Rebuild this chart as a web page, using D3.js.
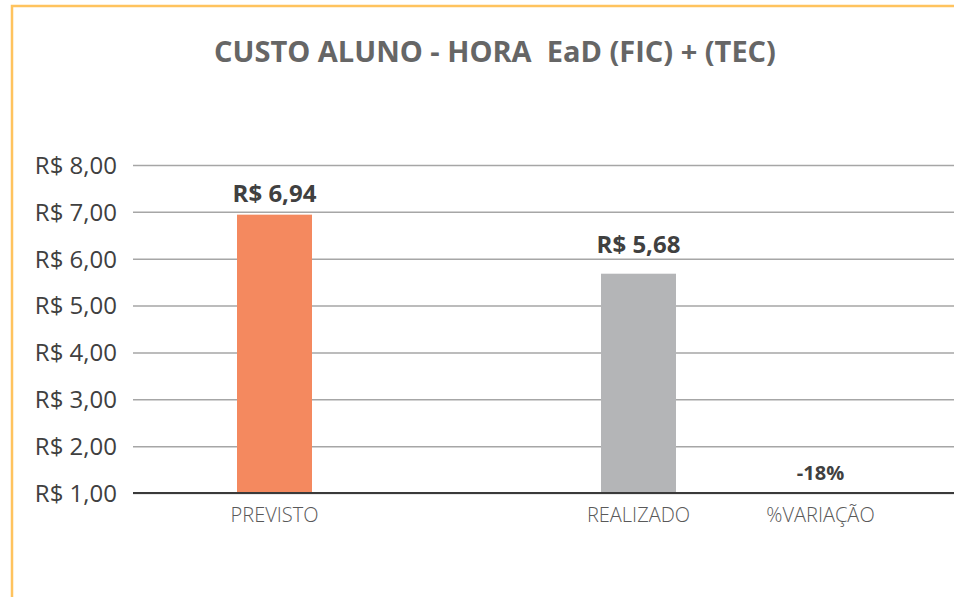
<!DOCTYPE html>
<html>
<head>
	<meta charset="utf-8">
	<style>
		body { margin: 0; background: white; overflow: hidden; }
		text { font-family: "Open Sans", "Noto Sans", sans-serif; }
	</style>
	<title>Custo aluno-hora</title>
</head>
<body>
	<script src="https://cdnjs.cloudflare.com/ajax/libs/d3/7.8.5/d3.min.js"></script>
	<script>
	// categories (the second slot is empty in the original chart)
	var categories = ["PREVISTO", "", "REALIZADO", "%VARIAÇÃO"];
	var values = [6.94, null, 5.68, -0.18];
	var valueLabels = ["R$ 6,94", "", "R$ 5,68", "-18%"];
	var yTicks = [1, 2, 3, 4, 5, 6, 7, 8];

	var barColors = ["#F4895F", null, "#B4B5B7", "#A5A5A5"];
	var labelGap = [13, 0, 21, 13];

	var width = 954, height = 597;

	var svg = d3.select("body")
		.append("svg")
		.attr("width", width)
		.attr("height", height);

	// orange frame, only top and left edges show
	svg.append("path")
		.attr("d", "M12," + height + "V6H" + width)
		.style("fill", "none")
		.style("stroke", "#FFC35E")
		.style("stroke-width", 2.5);

	// title
	svg.append("text")
		.attr("x", 495)
		.attr("y", 62)
		.style("text-anchor", "middle")
		.style("font-size", "29px")
		.style("font-weight", "bold")
		.style("fill", "#666666")
		.attr("xml:space", "preserve")
		.text("CUSTO ALUNO - HORA  EaD (FIC) + (TEC)");

	var xScale = d3.scaleBand()
		.domain(d3.range(categories.length))
		.range([183.5, 183.5 + 182 * 4]);

	var yScale = d3.scaleLinear()
		.domain([1, 8])
		.range([493, 165]);

	var fmt = function(d) { return "R$ " + d.toFixed(2).replace(".", ","); };

	// gridlines + y labels
	var yAxis = d3.axisLeft(yScale)
		.tickValues(yTicks)
		.tickSize(-(width - 133))
		.tickPadding(16)
		.tickFormat(fmt);

	var gy = svg.append("g")
		.attr("transform", "translate(133,0)")
		.call(yAxis);
	gy.select(".domain").remove();
	gy.selectAll(".tick line")
		.style("stroke", "#A6A6A6")
		.style("stroke-width", 1.5);
	gy.selectAll(".tick text")
		.style("font-size", "24px")
		.style("fill", "#404040")
		.attr("dy", "0.35em");

	// bars
	var barW = 75;
	var mid = function(i) { return xScale(i) + xScale.bandwidth() / 2; };
	svg.selectAll("rect.bar")
		.data(values.map(function(v, i) { return {v: v, i: i}; })
			.filter(function(d) { return d.v !== null && d.v > 1; }))
		.enter()
		.append("rect")
		.attr("class", "bar")
		.attr("x", function(d) { return mid(d.i) - barW / 2; })
		.attr("y", function(d) { return yScale(d.v); })
		.attr("width", barW)
		.attr("height", function(d) { return yScale(1) - yScale(d.v); })
		.style("fill", function(d) { return barColors[d.i]; });

	// x axis line
	svg.append("line")
		.attr("x1", 133)
		.attr("x2", width)
		.attr("y1", yScale(1))
		.attr("y2", yScale(1))
		.style("stroke", "#3A3A3A")
		.style("stroke-width", 2);

	// value labels
	svg.selectAll("text.val")
		.data(values)
		.enter()
		.append("text")
		.attr("class", "val")
		.attr("x", function(d, i) { return mid(i); })
		.attr("y", function(d, i) { return d === null ? 0 : yScale(Math.max(d, 1)) - labelGap[i]; })
		.style("text-anchor", "middle")
		.style("font-weight", "bold")
		.style("font-size", function(d) { return d !== null && d < 1 ? "20px" : "24px"; })
		.style("fill", "#404040")
		.text(function(d, i) { return valueLabels[i]; });

	// category labels
	svg.selectAll("text.cat")
		.data(categories)
		.enter()
		.append("text")
		.attr("class", "cat")
		.attr("x", function(d, i) { return mid(i); })
		.attr("y", 522)
		.style("text-anchor", "middle")
		.style("font-size", "20px")
		.style("font-weight", 300)
		.style("fill", "#595959")
		.text(function(d) { return d; });
	</script>
</body>
</html>
